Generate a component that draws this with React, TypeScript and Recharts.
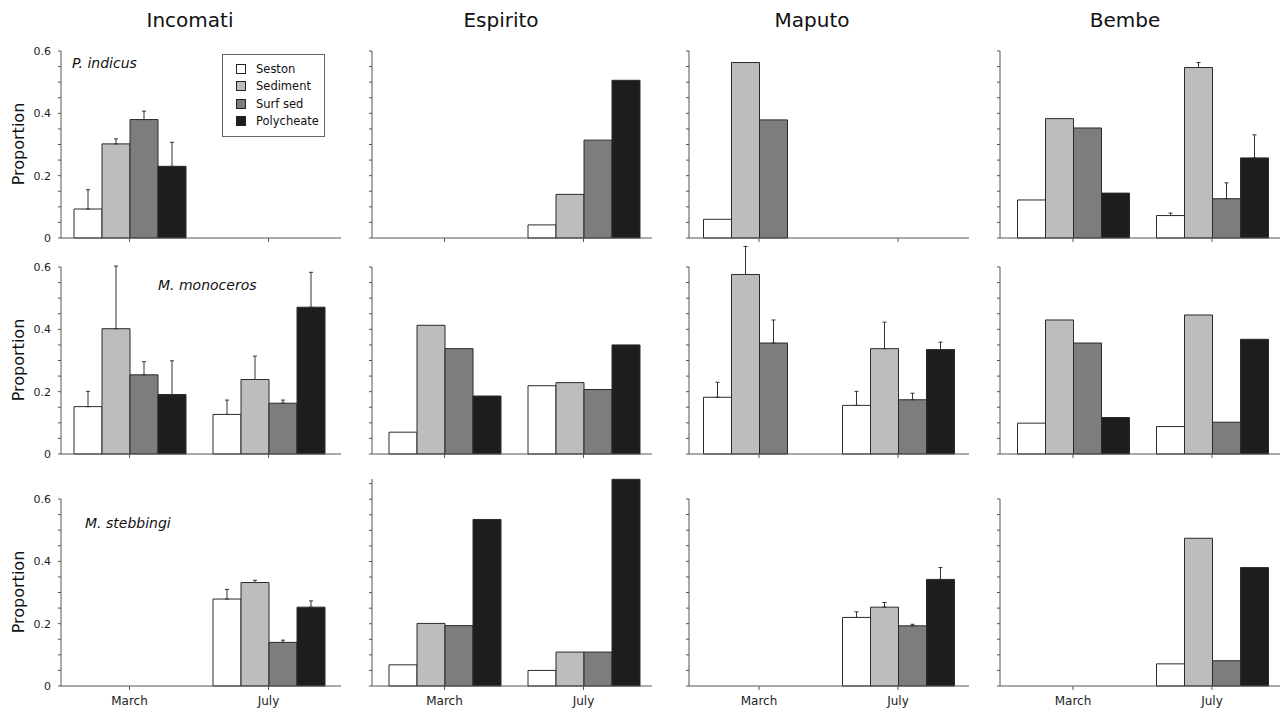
import React from "react";
import { BarChart, Bar, XAxis, YAxis, ErrorBar } from "recharts";

const rivers = ["Incomati", "Espirito", "Maputo", "Bembe"];
const months = ["March", "July"];
const sources = ["Seston", "Sediment", "Surf sed", "Polycheate"];
const species = ["P. indicus", "M. monoceros", "M. stebbingi"];

type Cell = number | null;
const _ = null;

// mean proportion: [river][month][source]
const indicusMean: Cell[][][] = [
  [[0.093, 0.302, 0.38, 0.23], [_, _, _, _]],
  [[_, _, _, _], [0.042, 0.14, 0.314, 0.506]],
  [[0.06, 0.563, 0.379, _], [_, _, _, _]],
  [[0.122, 0.383, 0.353, 0.144], [0.072, 0.547, 0.126, 0.257]],
];
const indicusErr: Cell[][][] = [
  [[0.062, 0.016, 0.027, 0.077], [_, _, _, _]],
  [[_, _, _, _], [_, _, _, _]],
  [[_, _, _, _], [_, _, _, _]],
  [[_, _, _, _], [0.008, 0.016, 0.051, 0.074]],
];

const monocerosMean: Cell[][][] = [
  [[0.152, 0.402, 0.254, 0.191], [0.127, 0.239, 0.163, 0.471]],
  [[0.07, 0.413, 0.338, 0.186], [0.219, 0.229, 0.207, 0.35]],
  [[0.182, 0.576, 0.356, _], [0.156, 0.338, 0.174, 0.335]],
  [[0.099, 0.43, 0.356, 0.117], [0.088, 0.446, 0.102, 0.368]],
];
const monocerosErr: Cell[][][] = [
  [[0.049, 0.201, 0.042, 0.108], [0.046, 0.075, 0.01, 0.112]],
  [[_, _, _, _], [_, _, _, _]],
  [[0.048, 0.09, 0.074, _], [0.045, 0.085, 0.021, 0.024]],
  [[_, _, _, _], [_, _, _, _]],
];

const stebbingiMean: Cell[][][] = [
  [[_, _, _, _], [0.279, 0.332, 0.14, 0.253]],
  [[0.068, 0.201, 0.194, 0.535], [0.05, 0.109, 0.109, 0.664]],
  [[_, _, _, _], [0.22, 0.253, 0.193, 0.342]],
  [[_, _, _, _], [0.071, 0.474, 0.081, 0.38]],
];
const stebbingiErr: Cell[][][] = [
  [[_, _, _, _], [0.031, 0.007, 0.007, 0.02]],
  [[_, _, _, _], [_, _, _, _]],
  [[_, _, _, _], [0.018, 0.015, 0.005, 0.038]],
  [[_, _, _, _], [_, _, _, _]],
];

const yTicks = [0, 0.05, 0.1, 0.15, 0.2, 0.25, 0.3, 0.35, 0.4, 0.45, 0.5, 0.55, 0.6];
const yTicksTall = [...yTicks, 0.65];

const means = [indicusMean, monocerosMean, stebbingiMean];
const errs = [indicusErr, monocerosErr, stebbingiErr];

const fills = ["#ffffff", "#bdbdbd", "#7d7d7d", "#1d1d1d"];
const FONT = "'DejaVu Sans', sans-serif";

// layout
const colX = [61, 372, 689, 1000];
const colPad = [-1, 3, 0.5, 3.5];
const rowZero = [238, 454, 686];
const UNIT = 311.7; // px per 1.0
const PLOT_W = 280;
const Y_W = 40;
const X_H = 24;
const TOP = 25;

const fmtY = (v: number) => {
  const r = Math.round(v * 100);
  if (r % 20 !== 0) return "";
  return r === 0 ? "0" : v.toFixed(1);
};

function Panel({ si, ri }: { si: number; ri: number }) {
  const mean = means[si][ri];
  const err = errs[si][ri];
  const data = months.map((m, mi) => {
    const row: any = { month: m };
    sources.forEach((_s, k) => {
      row[`v${k}`] = mean[mi][k];
      const e = err[mi][k];
      row[`e${k}`] = e == null ? null : [0, e];
    });
    return row;
  });
  const tall = si === 2 && ri === 1;
  const yMax = tall ? 0.665 : 0.6;
  const plotH = Math.round(yMax * UNIT);
  const left = colX[ri] - Y_W;
  const top = rowZero[si] - plotH - TOP;
  const padL = colPad[ri];
  const bottomRow = si === 2;
  return (
    <div style={{ position: "absolute", left, top }}>
      <BarChart
        width={Y_W + PLOT_W + 2}
        height={TOP + plotH + X_H}
        data={data}
        margin={{ top: TOP, right: 2, left: 0, bottom: 0 }}
        barGap={0}
        barSize={28}
      >
        <XAxis
          dataKey="month"
          height={X_H}
          padding={{ left: padL, right: 2 - padL }}
          axisLine={{ stroke: "#555" }}
          tickLine={{ stroke: "#555" }}
          tickSize={4}
          tickMargin={6}
          tick={{ fontFamily: FONT, fontSize: 12, fill: "#222" }}
          tickFormatter={(v: string) => (bottomRow ? v : "")}
        />
        <YAxis
          type="number"
          width={Y_W}
          domain={[0, yMax]}
          allowDataOverflow
          ticks={tall ? yTicksTall : yTicks}
          interval={0}
          axisLine={{ stroke: "#555" }}
          tickLine={{ stroke: "#555" }}
          tickSize={3}
          tickMargin={7}
          tick={{ fontFamily: FONT, fontSize: 11, fill: "#222" }}
          tickFormatter={(v: number) => (ri === 0 ? fmtY(v) : "")}
        />
        {sources.map((s, k) => (
          <Bar
            key={s}
            dataKey={`v${k}`}
            name={s}
            fill={fills[k]}
            stroke="#2a2a2a"
            strokeWidth={1}
            isAnimationActive={false}
          >
            <ErrorBar dataKey={`e${k}`} direction="y" width={2} stroke="#333" strokeWidth={1} />
          </Bar>
        ))}
      </BarChart>
    </div>
  );
}

const titleX = [190, 501, 812, 1125];
const speciesPos = [
  { x: 72, y: 63 },
  { x: 158, y: 285 },
  { x: 85, y: 523 },
];

export default function App() {
  return (
    <div
      style={{
        position: "absolute",
        left: 0,
        top: 0,
        width: 1281,
        height: 710,
        overflow: "hidden",
        background: "#fff",
        fontFamily: FONT,
        color: "#111",
      }}
    >
      <style>{".recharts-wrapper [clip-path]{clip-path:none}"}</style>
      {rivers.map((r, i) => (
        <div
          key={r}
          style={{
            position: "absolute",
            left: titleX[i],
            top: 20,
            transform: "translate(-50%, -50%)",
            fontSize: 20,
            whiteSpace: "nowrap",
          }}
        >
          {r}
        </div>
      ))}
      {species.map((sp, si) =>
        rivers.map((r, ri) => <Panel key={`${sp}-${r}`} si={si} ri={ri} />)
      )}
      {species.map((sp, si) => (
        <React.Fragment key={sp}>
          <div
            style={{
              position: "absolute",
              left: speciesPos[si].x,
              top: speciesPos[si].y,
              transform: "translateY(-50%)",
              fontSize: 14,
              fontStyle: "italic",
              whiteSpace: "nowrap",
            }}
          >
            {sp}
          </div>
          <div
            style={{
              position: "absolute",
              left: 18,
              top: rowZero[si] - 0.3 * UNIT,
              transform: "translate(-50%, -50%) rotate(-90deg)",
              fontSize: 16,
              whiteSpace: "nowrap",
            }}
          >
            Proportion
          </div>
        </React.Fragment>
      ))}
      <div
        style={{
          position: "absolute",
          left: 222,
          top: 54,
          width: 103,
          height: 83,
          boxSizing: "border-box",
          border: "1px solid #666",
          background: "#fff",
        }}
      >
        {sources.map((s, k) => (
          <div
            key={s}
            style={{
              position: "absolute",
              left: 13,
              top: 14 + k * 17.3 - 8,
              height: 16,
              display: "flex",
              alignItems: "center",
              fontSize: 11.5,
              whiteSpace: "nowrap",
            }}
          >
            <span
              style={{
                display: "inline-block",
                width: 10,
                height: 10,
                boxSizing: "border-box",
                border: "1px solid #222",
                background: fills[k],
                marginRight: 10,
              }}
            />
            {s}
          </div>
        ))}
      </div>
    </div>
  );
}
